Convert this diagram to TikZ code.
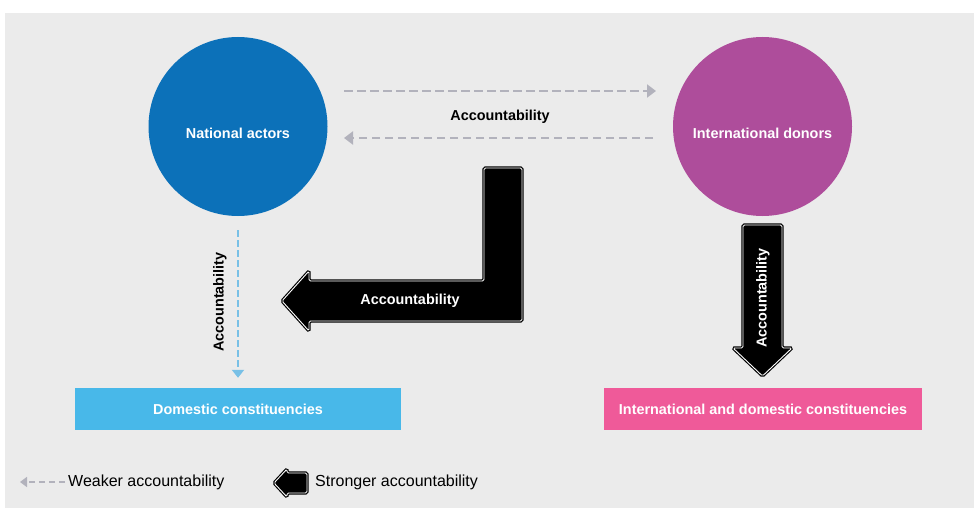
\documentclass[tikz,border=0pt]{standalone}
\usepackage{fontspec}
\setmainfont{Liberation Sans}
\usetikzlibrary{arrows.meta}
\definecolor{bggray}{RGB}{235,235,235}
\definecolor{natblue}{RGB}{12,113,185}
\definecolor{donpurple}{RGB}{174,77,155}
\definecolor{domblue}{RGB}{72,184,233}
\definecolor{intpink}{RGB}{239,90,153}
\definecolor{weakgray}{RGB}{178,178,188}
\definecolor{weakblue}{RGB}{120,192,230}

\begin{document}
\begin{tikzpicture}[x=1pt, y=-1pt,
  lbl/.style={font=\fontsize{14.4}{17}\selectfont\bfseries},
  legend/.style={font=\fontsize{16}{19}\selectfont, anchor=west, inner sep=0pt},
  actor/.style={circle, minimum size=179pt, inner sep=0pt},
  actortext/.style={label={[lbl, text=white, yshift=-6.5pt]center:#1}},
  constit/.style={rectangle, minimum height=42pt, inner sep=0pt, text=white, lbl},
  weak/.style={draw=weakgray, line width=2.8pt, dash pattern=on 8.5pt off 4.5pt, -{Triangle[length=9pt, width=13pt]}},
  weaksmall/.style={draw=weakgray, line width=2pt, dash pattern=on 6pt off 4pt, -{Triangle[length=7pt, width=10pt]}},
  weakdom/.style={draw=weakblue, line width=2.2pt, dash pattern=on 6.5pt off 3.5pt, -{Triangle[length=8pt, width=12pt]}},
  strong/.style={fill=black, draw=white, line width=0.9pt, rounded corners=1.5pt, preaction={draw=black, line width=3.2pt}}]

\useasboundingbox (0,0) rectangle (974,508);
\fill[bggray] (5,13) rectangle (974,508);

% actors and constituencies
\node[actor, fill=natblue, actortext=National actors] (natl) at (238,126.5) {};
\node[actor, fill=donpurple, actortext=International donors] (donors) at (762.5,126.5) {};
\node[constit, fill=domblue, minimum width=326pt] (dom) at (238,409) {\raisebox{-1.5pt}{Domestic constituencies}};
\node[constit, fill=intpink, minimum width=318pt] (intl) at (763,409) {\raisebox{-1.5pt}{International and domestic constituencies}};

% weaker accountability
\coordinate (w1) at (344,91);
\coordinate (w2) at (656,91);
\coordinate (w3) at (653,138);
\coordinate (w4) at (344,138);
\draw[weak] (w1) -- (w2);
\draw[weak] (w3) -- (w4);
\node[lbl] (acctop) at (500,117) {Accountability};
\draw[weakdom] ([yshift=-14pt]natl.south) -- ([yshift=10pt]dom.north);
\node[lbl, rotate=90] (accdom) at (220,302) {Accountability};

% stronger accountability
\coordinate (bent) at (282,301);
\draw[strong] (bent) -- (309,271) -- (309,281) -- (484,281) -- (484,168) -- (522,168)
  -- (522,321) -- (309,321) -- (309,331) -- cycle;
\node[lbl, text=white] (accbent) at (410,301) {Accountability};
\coordinate (down) at (762.5,376);
\draw[strong] (down) -- (733,348) -- (743,348) -- (743,225) -- (782,225) -- (782,348)
  -- (792,348) -- cycle;
\node[lbl, text=white, rotate=90] (accdown) at (763,298) {Accountability};

% legend
\coordinate (lw1) at (65,482);
\coordinate (lw2) at (20,482);
\draw[weaksmall] (lw1) -- (lw2);
\node[legend] (lweak) at (68,482) {Weaker accountability};
\coordinate (ls) at (274,483);
\draw[strong] (ls) -- (287,469) -- (287,473) -- (307,473) -- (307,493) -- (287,493)
  -- (287,497) -- cycle;
\node[legend] (lstrong) at (315,482) {Stronger accountability};
\end{tikzpicture}
\end{document}
